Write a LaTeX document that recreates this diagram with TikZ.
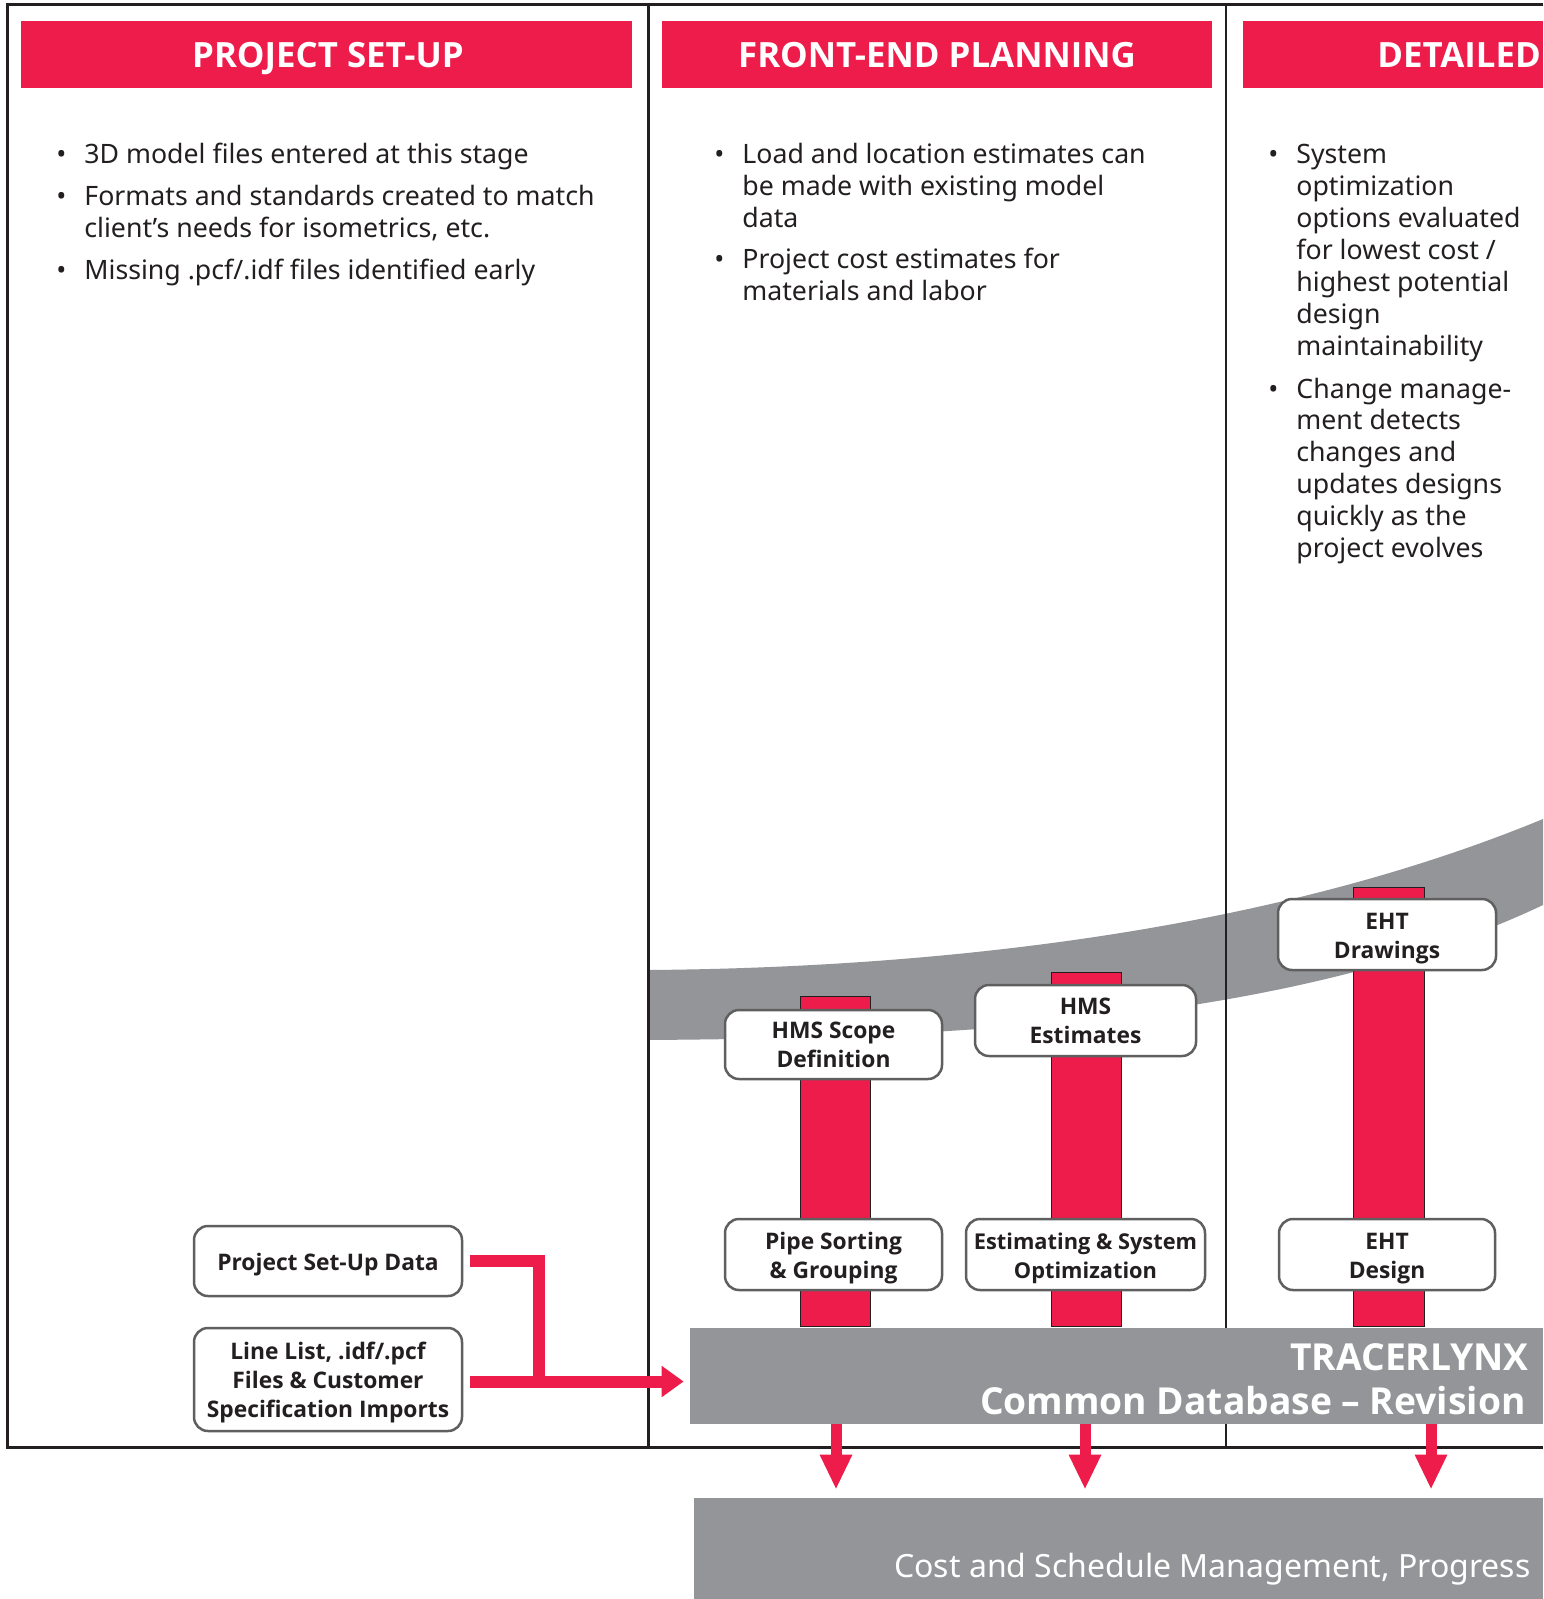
\documentclass[tikz,border=0pt]{standalone}
\usepackage{fontspec}
\setmainfont{Noto Sans}
\newfontfamily\boldsans{Open Sans}
\usetikzlibrary{arrows.meta}
\definecolor{tred}{RGB}{237,28,75}
\definecolor{tgray}{RGB}{147,149,152}
\definecolor{tdark}{RGB}{35,31,32}
\definecolor{tbord}{RGB}{95,95,95}
\newcommand{\plines}[1]{\parbox[t]{260pt}{\fontsize{13.35pt}{15.95pt}\selectfont\raggedright #1}}
\newcommand{\boxstrut}{\rule{0pt}{12.2pt}}
\begin{document}
\begin{tikzpicture}[x=0.5pt,y=-0.5pt,
  hdr/.style={fill=tred, draw=none, inner sep=0, anchor=north west, minimum height=33.5pt},
  hdrtxt/.style={text=white, font=\boldsans\fontsize{17.4pt}{20pt}\selectfont\bfseries, inner sep=0},
  bul/.style={text=tdark, font=\fontsize{13.35pt}{15.95pt}\selectfont, inner sep=0, anchor=base west},
  para/.style={text=tdark, inner sep=0, anchor=base west},
  box/.style={draw=tbord, line width=1.25pt, fill=white, rounded corners=7pt, inner sep=0,
    align=center, text=tdark, font=\boldsans\fontsize{11.4pt}{14.5pt}\selectfont\bfseries},
  bar/.style={fill=tred, draw=tdark, line width=0.5pt, inner sep=0, minimum width=35pt},
  frame/.style={draw=tdark, line width=1.5pt},
  slab/.style={fill=tgray, draw=none, inner sep=0},
  rline/.style={draw=tred, line width=6pt, line join=miter},
  rarrow/.style={draw=tred, line width=6pt, -{Triangle[length=11pt,width=15pt]}},
  darrow/.style={draw=tred, line width=5.5pt, -{Triangle[length=17.5pt,width=15pt]}},
  dbtxt/.style={text=white, font=\boldsans\fontsize{18.6pt}{22pt}\selectfont\bfseries, inner sep=0, anchor=base east},
  costtxt/.style={text=white, font=\fontsize{16pt}{19pt}\selectfont, inner sep=0, anchor=base east}
]
\useasboundingbox (0,0) rectangle (1543,1599);
\fill[white] (0,0) rectangle (1543,1599);

% headers
\node[hdr, minimum width=305.5pt] (h1) at (21,21) {};
\node[hdr, minimum width=275pt] (h2) at (662,21) {};
\node[hdr, minimum width=150pt] (h3) at (1243,21) {};
\node[hdrtxt, anchor=base] (h1t) at (328,68) {PROJECT SET-UP};
\node[hdrtxt, anchor=base] (h2t) at (937,68) {FRONT-END PLANNING};
\node[hdrtxt, anchor=base west] (h3t) at (1377,68) {DETAILED};

% bullets column 1
\node[bul] (b11) at (56,164) {•};
\node[para] (p11) at (84,164) {\plines{3D model files entered at this stage}};
\node[bul] (b12) at (56,206) {•};
\node[para] (p12) at (84,206) {\plines{Formats and standards created to match\\client’s needs for isometrics, etc.}};
\node[bul] (b13) at (56,280) {•};
\node[para] (p13) at (84,280) {\plines{Missing .pcf/.idf files identified early}};

% bullets column 2
\node[bul] (b21) at (714,164) {•};
\node[para] (p21) at (742,164) {\plines{Load and location estimates can\\be made with existing model\\data}};
\node[bul] (b22) at (714,269) {•};
\node[para] (p22) at (742,269) {\plines{Project cost estimates for\\materials and labor}};

% bullets column 3
\node[bul] (b31) at (1268,164) {•};
\node[para] (p31) at (1296,164) {\plines{System\\optimization\\options evaluated\\for lowest cost /\\highest potential\\design\\maintainability}};
\node[bul] (b32) at (1268,398) {•};
\node[para] (p32) at (1296,398) {\plines{Change manage-\\ment detects\\changes and\\updates designs\\quickly as the\\project evolves}};

% gray band
\fill[tgray] (648,970) .. controls (900,968) and (1250,940) .. (1543,819)
  -- (1543,905) .. controls (1280,1030) and (900,1038) .. (648,1040) -- cycle;

% frame and dividers
\draw[frame] (1543,5) -- (7,5) -- (7,1447) -- (1543,1447);
\draw[frame] (648,5) -- (648,1447);
\draw[frame, line width=1.25pt] (1226,5) -- (1226,1447);

% red bars
\node[bar, minimum height=165pt] (bar1) at (835,1161) {};
\node[bar, minimum height=177pt] (bar2) at (1086,1149) {};
\node[bar, minimum height=219.5pt, minimum width=35.5pt] (bar3) at (1388.5,1106.5) {};

% boxes
\node[box, minimum width=108.5pt, minimum height=34.5pt] (hms1) at (833.5,1044.5) {HMS Scope\\Definition};
\node[box, minimum width=110.5pt, minimum height=35.5pt] (hms2) at (1085.5,1020.5) {HMS\\Estimates};
\node[box, minimum width=109pt, minimum height=35.5pt] (eht1) at (1387,934.5) {\boxstrut EHT\\Drawings};
\node[box, minimum width=108.5pt, minimum height=35.5pt] (pipe) at (833.5,1254.5) {\boxstrut Pipe Sorting\\\& Grouping};
\node[box, minimum width=119.5pt, minimum height=35.5pt, font=\boldsans\fontsize{10.9pt}{14.5pt}\selectfont\bfseries] (est) at (1085.5,1254.5) {\boxstrut Estimating \& System\\Optimization};
\node[box, minimum width=108pt, minimum height=35.5pt] (eht2) at (1387,1254.5) {\boxstrut EHT\\Design};
\node[box, minimum width=134pt, minimum height=35pt] (psd) at (328,1261) {\boxstrut Project Set-Up Data};
\node[box, minimum width=134pt, minimum height=51.5pt] (llist) at (328,1379.5) {\boxstrut Line List, .idf/.pcf\\Files \& Customer\\Specification Imports};

% database and cost slabs
\node[slab, minimum width=426.5pt, minimum height=48pt] (db) at (1116.5,1376) {};
\node[slab, minimum width=424.5pt, minimum height=50.5pt] (cost) at (1118.5,1548.5) {};
\node[dbtxt] (dbt1) at (1529,1370) {TRACERLYNX};
\node[dbtxt] (dbt2) at (1526,1414) {Common Database – Revision};
\node[costtxt] (costt) at (1531,1577) {Cost and Schedule Management, Progress};

% red connectors
\coordinate (s2) at ([xshift=3.5pt,yshift=-1pt]llist.east);
\path (s2) ++(69,0) coordinate (jn);
\draw[rline] ([xshift=3.5pt]psd.east) -| (jn);
\draw[rarrow, shorten >=3pt] (s2) -- (s2 -| db.west);

\coordinate (a1) at (836,1424);
\coordinate (a2) at (1085,1424);
\coordinate (a3) at (1431,1424);
\draw[darrow, shorten >=4pt] (a1 |- db.south) -- (a1 |- cost.north);
\draw[darrow, shorten >=4pt] (a2 |- db.south) -- (a2 |- cost.north);
\draw[darrow, shorten >=4pt] (a3 |- db.south) -- (a3 |- cost.north);
\end{tikzpicture}
\end{document}
